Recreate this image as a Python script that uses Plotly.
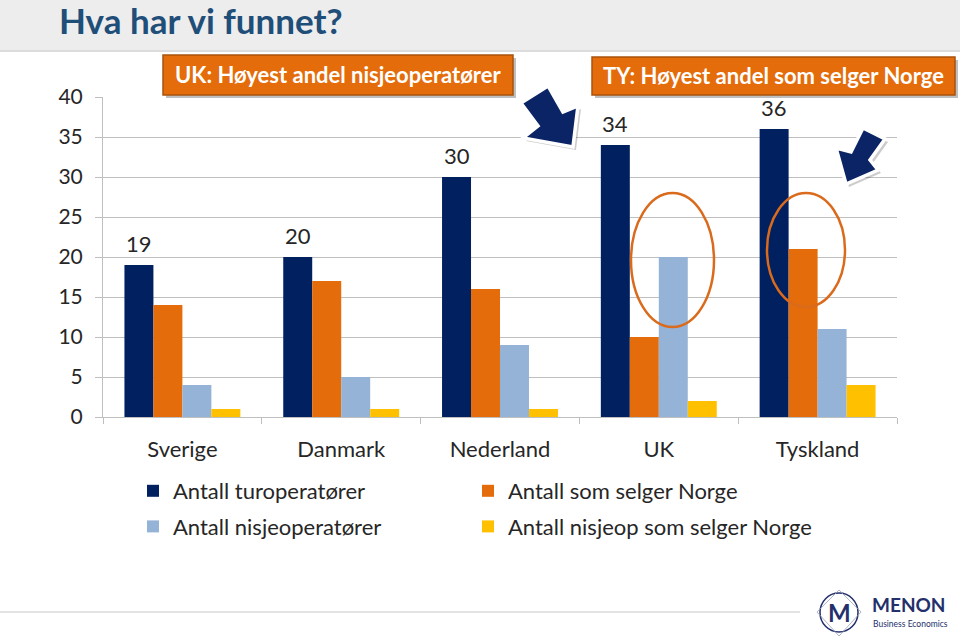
import plotly.graph_objects as go

# Data
land = ["Sverige", "Danmark", "Nederland", "UK", "Tyskland"]
turoperatorer = [19, 20, 30, 34, 36]
selger_norge = [14, 17, 16, 10, 21]
nisjeoperatorer = [4, 5, 9, 20, 11]
nisjeop_selger = [1, 1, 1, 2, 4]

NAVY = "#002060"
ORANGE = "#E46C0A"
LIGHTBLUE = "#95B3D7"
YELLOW = "#FFC000"
FONT = "Lato, 'Open Sans', sans-serif"

# plot area in pixels
L, R, T, B = 103, 897, 97, 417


def px(x):
    return (x - L) / (R - L)


def py(y):
    return (B - y) / (B - T)


def path(points):
    return "M " + " L ".join(f"{px(x):.4f},{py(y):.4f}" for x, y in points) + " Z"


fig = go.Figure()
series = [
    ("Antall turoperatører", turoperatorer, NAVY, "legend"),
    ("Antall som selger Norge", selger_norge, ORANGE, "legend2"),
    ("Antall nisjeoperatører", nisjeoperatorer, LIGHTBLUE, "legend"),
    ("Antall nisjeop som selger Norge", nisjeop_selger, YELLOW, "legend2"),
]
for i, (name, vals, col, leg) in enumerate(series):
    fig.add_trace(go.Bar(name=name, x=land, y=vals, marker=dict(color=col, line_width=0),
                         legend=leg, legendgroup=f"g{i}"))

# value labels above the first bar in each group
for cat, v in zip(land, turoperatorer):
    fig.add_annotation(
        x=cat, y=v, xref="x", yref="y", text=str(v), showarrow=False,
        xshift=-43.5, yshift=6, xanchor="center", yanchor="bottom",
        font=dict(family=FONT, size=22, color="#262626"),
    )

shapes = []
# header band
shapes.append(dict(type="rect", xref="paper", yref="paper", x0=px(0), x1=px(960), y0=py(50), y1=py(-5),
                   fillcolor="#EDEDED", line_width=0, layer="below"))
shapes.append(dict(type="line", xref="paper", yref="paper", x0=px(0), x1=px(960), y0=py(51), y1=py(51),
                   line=dict(color="#D0D0D0", width=1.5)))
# footer line
shapes.append(dict(type="line", xref="paper", yref="paper", x0=px(0), x1=px(800), y0=py(612), y1=py(612),
                   line=dict(color="#E3E3E3", width=2)))

# callout boxes
for x0, x1, y0, y1 in [(163, 513, 55, 95), (592, 955, 57, 95)]:
    shapes.append(dict(type="rect", xref="paper", yref="paper", x0=px(x0 + 3), x1=px(x1 + 3),
                       y0=py(y1 + 3), y1=py(y0 + 3), fillcolor="rgba(0,0,0,0.25)", line_width=0))
    shapes.append(dict(type="rect", xref="paper", yref="paper", x0=px(x0), x1=px(x1),
                       y0=py(y1), y1=py(y0), fillcolor=ORANGE, line=dict(color="#A9520B", width=1.5)))

# block arrows
arrow1 = [(521, 103), (548, 86), (563, 112), (578, 106), (573, 147), (523, 138), (538, 126)]
arrow2 = [(863, 128), (885, 139), (870, 160), (878, 170), (846, 184), (836, 148), (851, 152)]
for pts in (arrow1, arrow2):
    shadow = [(x + 3, y + 3) for x, y in pts]
    shapes.append(dict(type="path", xref="paper", yref="paper", path=path(shadow),
                       fillcolor="rgba(0,0,0,0.2)", line_width=0))
    shapes.append(dict(type="path", xref="paper", yref="paper", path=path(pts),
                       fillcolor="#0B2466", line=dict(color="white", width=3.5)))

# ellipses
for x0, x1, y0, y1 in [(631, 714, 193, 327), (767, 845, 193, 307)]:
    shapes.append(dict(type="circle", xref="paper", yref="paper", x0=px(x0), x1=px(x1),
                       y0=py(y1), y1=py(y0), line=dict(color="#DA6A1C", width=2.5)))

# logo
shapes.append(dict(type="circle", xref="paper", yref="paper", x0=px(820), x1=px(858), y0=py(632), y1=py(593),
                   line=dict(color="#23306B", width=1.5)))
shapes.append(dict(type="path", xref="paper", yref="paper",
                   path=path([(839, 590), (861, 612), (839, 636), (817, 612)]),
                   line=dict(color="#9AA0B8", width=0.8)))

fig.update_layout(shapes=shapes)


def note(text, x, y, size, color, xanchor="center", family=FONT):
    fig.add_annotation(text=text, xref="paper", yref="paper", x=px(x), y=py(y),
                       xanchor=xanchor, yanchor="middle", showarrow=False,
                       font=dict(family=family, size=size, color=color))


note("<b>Hva har vi funnet?</b>", 57, 20, 35, "#1F4E79", xanchor="left")
note("<b>UK: Høyest andel nisjeoperatører</b>", 338, 75, 22, "white")
note("<b>TY: Høyest andel som selger Norge</b>", 773, 76, 22, "white")
note("<b>M</b>", 839, 612, 24, "#23306B")
note("<b>MENON</b>", 870, 604, 19, "#23306B", xanchor="left")
note("Business Economics", 871, 624, 8.5, "#23306B", xanchor="left")

legend_style = dict(
    orientation="v", y=py(470), xanchor="left", yanchor="top", traceorder="grouped",
    tracegroupgap=4, font=dict(family=FONT, size=22, color="#262626"), bgcolor="rgba(0,0,0,0)",
)

fig.update_layout(
    width=960,
    height=641,
    margin=dict(l=L, r=960 - R, t=T, b=641 - B),
    paper_bgcolor="white",
    plot_bgcolor="white",
    barmode="group",
    bargap=0.27,
    bargroupgap=0,
    font=dict(family=FONT, size=20, color="#262626"),
    showlegend=True,
    legend=dict(x=px(133), **legend_style),
    legend2=dict(x=px(468), **legend_style),
)
fig.update_yaxes(
    range=[0, 40], dtick=5, showgrid=True, gridcolor="#BFBFBF", gridwidth=1,
    showline=True, linecolor="#BFBFBF", ticks="outside", ticklen=7, tickcolor="#BFBFBF",
    ticklabelstandoff=8, tickfont=dict(family=FONT, size=21, color="#262626"), zeroline=False,
)
fig.update_xaxes(
    showline=True, linecolor="#BFBFBF", ticks="outside", ticklen=6, tickcolor="#BFBFBF",
    tickson="boundaries", ticklabelstandoff=13, tickfont=dict(family=FONT, size=22, color="#262626"),
)

fig.write_html("out.html", config={"displayModeBar": False},
               post_script="document.body.style.margin='0';")
